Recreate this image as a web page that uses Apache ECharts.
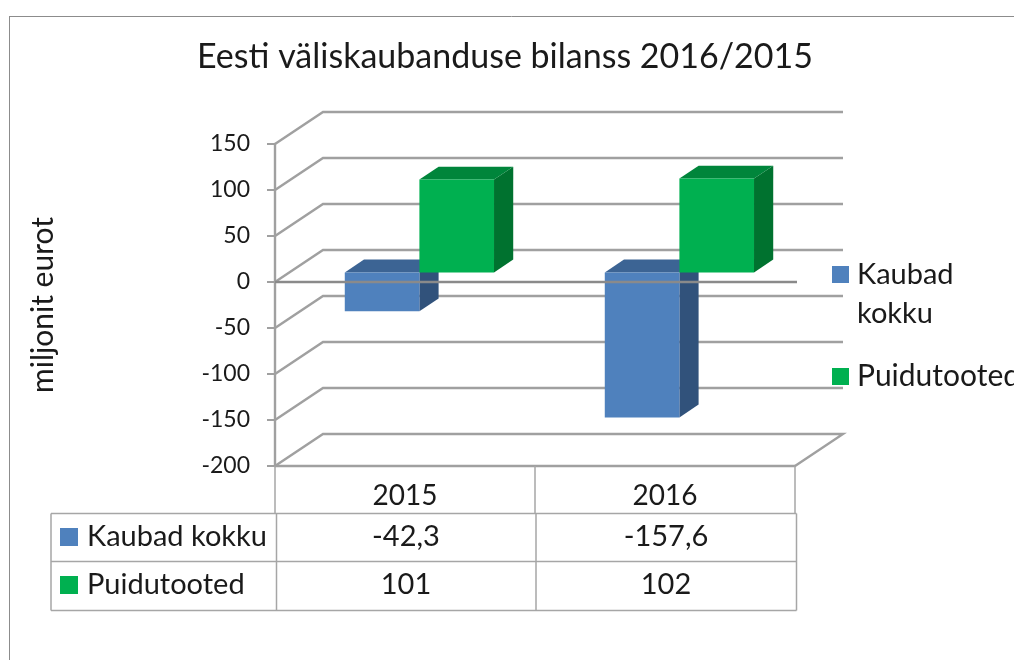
<!DOCTYPE html>
<html>
<head>
<meta charset="utf-8">
<style>
  html, body { margin: 0; padding: 0; background: #fff; overflow: hidden; }
  #chart { width: 1014px; height: 660px; }
</style>
<script src="https://cdn.jsdelivr.net/npm/echarts@6/dist/echarts.min.js"></script>
</head>
<body>
<div id="chart"></div>
<script>
var titleText = 'Eesti väliskaubanduse bilanss 2016/2015'
var yAxisName = 'miljonit eurot'
var categories = ['2015', '2016']
var kaubadName = 'Kaubad kokku'
var kaubadValues = [-42.3, -157.6]
var kaubadLabels = ['-42,3', '-157,6']
var puitName = 'Puidutooted'
var puitValues = [101, 102]
var puitLabels = ['101', '102']
var yTicks = [-200, -150, -100, -50, 0, 50, 100, 150]

var font = 'Lato'
var textColor = '#1a1a1a'
var lineColor = '#a0a0a0'
var tableColor = '#a6a6a6'

// wall depth of the 3d box, pixels
var wallDx = 48
var wallDy = -32
// bars stand between 30% and 70% of the depth
var barNear = 0.3
var barFar = 0.7
var barShare = 0.287

var blue = { front: '#4f81bd', top: '#3c6494', side: '#31527b' }
var green = { front: '#00b050', top: '#00853b', side: '#00722f' }

function wallItem(params, api) {
  var v = api.value(0)
  var a = api.coord([0, v])
  var rect = params.coordSys
  var x0 = rect.x
  var x1 = rect.x + rect.width
  var points = [[x0, a[1]], [x0 + wallDx, a[1] + wallDy], [x1 + wallDx, a[1] + wallDy]]
  // floor is closed on the right side
  if (v === yTicks[0]) {
    points.push([x1, a[1]])
  }
  return {
    type: 'polyline',
    shape: { points: points },
    style: { stroke: lineColor, lineWidth: 2.4, fill: null }
  }
}

function barItem(colors, side) {
  return function (params, api) {
    var center = api.coord([api.value(0), 0])
    var end = api.coord([api.value(0), api.value(1)])
    var w = api.size([1, 0])[0] * barShare
    var nx = wallDx * barNear
    var ny = wallDy * barNear
    var dx = wallDx * (barFar - barNear)
    var dy = wallDy * (barFar - barNear)
    var x0 = center[0] + nx + (side < 0 ? -w : 0)
    var x1 = x0 + w
    var yT = Math.min(center[1], end[1]) + ny
    var yB = Math.max(center[1], end[1]) + ny
    return {
      type: 'group',
      children: [
        { type: 'polygon', shape: { points: [[x1, yT], [x1 + dx, yT + dy], [x1 + dx, yB + dy], [x1, yB]] }, style: { fill: colors.side } },
        { type: 'polygon', shape: { points: [[x0, yT], [x0 + dx, yT + dy], [x1 + dx, yT + dy], [x1, yT]] }, style: { fill: colors.top } },
        { type: 'rect', shape: { x: x0, y: yT, width: w, height: yB - yT }, style: { fill: colors.front } }
      ]
    }
  }
}

function zeroItem(params, api) {
  var p = api.coord([0, api.value(0)])
  var rect = params.coordSys
  return {
    type: 'line',
    shape: { x1: rect.x, y1: p[1], x2: rect.x + rect.width + 2, y2: p[1] },
    style: { stroke: '#8a8a8a', lineWidth: 2.4 }
  }
}

var chart = echarts.init(document.getElementById('chart'))

chart.setOption({
  animation: false,
  backgroundColor: '#fff',
  textStyle: { fontFamily: font },
  title: {
    text: titleText,
    left: 500,
    top: 35,
    textAlign: 'center',
    textStyle: { fontFamily: font, fontSize: 34, fontWeight: 'normal', color: textColor }
  },
  grid: { left: 275, right: 219, top: 144, bottom: 194 },
  xAxis: {
    type: 'category',
    data: categories,
    axisLine: { onZero: false, lineStyle: { color: lineColor, width: 2.4 } },
    axisTick: { show: true, length: 47, lineStyle: { color: tableColor, width: 1.5 } },
    axisLabel: { fontFamily: font, fontSize: 28, color: textColor, margin: 16 }
  },
  yAxis: {
    type: 'value',
    min: -200,
    max: 150,
    interval: 50,
    name: yAxisName,
    nameLocation: 'middle',
    nameRotate: 90,
    nameGap: 217,
    nameTextStyle: { fontFamily: font, fontSize: 30, color: textColor },
    splitLine: { show: false },
    axisLine: { show: true, lineStyle: { color: lineColor, width: 2.4 } },
    axisTick: { show: true, length: 8, lineStyle: { color: lineColor, width: 2 } },
    axisLabel: { fontFamily: font, fontSize: 23, color: textColor, margin: 25, padding: [2, 0, 0, 0] }
  },
  series: [
    {
      type: 'custom',
      name: 'walls',
      z: 1,
      silent: true,
      renderItem: wallItem,
      encode: { y: 0 },
      data: yTicks.map(function (v) { return [v] })
    },
    {
      type: 'custom',
      name: kaubadName,
      z: 2,
      renderItem: barItem(blue, -1),
      encode: { x: 0, y: 1 },
      data: kaubadValues.map(function (v, i) { return [i, v] })
    },
    {
      type: 'custom',
      name: puitName,
      z: 3,
      renderItem: barItem(green, 1),
      encode: { x: 0, y: 1 },
      data: puitValues.map(function (v, i) { return [i, v] })
    },
    {
      type: 'custom',
      name: 'zero',
      z: 4,
      silent: true,
      renderItem: zeroItem,
      encode: { y: 0 },
      data: [[0]]
    }
  ]
})

// table, legend and frame go in as graphics, cell centres come from the x axis
function line(x1, y1, x2, y2, color, width) {
  return { type: 'line', silent: true, shape: { x1: x1, y1: y1, x2: x2, y2: y2 }, style: { stroke: color, lineWidth: width } }
}
function label(text, x, y, align, size) {
  return {
    type: 'text',
    silent: true,
    style: { text: text, x: x, y: y, align: align, verticalAlign: 'middle', fontFamily: font, fontSize: size, lineHeight: 40, fill: textColor }
  }
}
function swatch(x, y, size, color) {
  return { type: 'rect', silent: true, shape: { x: x, y: y, width: size, height: size }, style: { fill: color } }
}

var rowTops = [513.5, 561.5, 610.5]
var colLines = [51, 276.5, 536, 796.5]
var rows = [
  { name: kaubadName, labels: kaubadLabels, color: blue.front, y: 537 },
  { name: puitName, labels: puitLabels, color: green.front, y: 585 }
]
var elements = [
  line(9.5, 16, 9.5, 660, '#8c8c8c', 1),
  line(9, 16.5, 1014, 16.5, '#8c8c8c', 1)
]
rowTops.forEach(function (y) {
  elements.push(line(colLines[0], y, colLines[3], y, tableColor, 1.5))
})
colLines.forEach(function (x) {
  elements.push(line(x, rowTops[0], x, rowTops[2], tableColor, 1.5))
})
rows.forEach(function (row) {
  elements.push(swatch(60, row.y - 9, 18, row.color))
  elements.push(label(row.name, 87, row.y, 'left', 29))
  row.labels.forEach(function (text, i) {
    var x = chart.convertToPixel({ xAxisIndex: 0 }, categories[i])
    elements.push(label(text, x + 1, row.y, 'center', 29))
  })
})
// legend on the right, first name breaks in two lines
elements.push(swatch(832, 266, 17, blue.front))
elements.push(label(kaubadName.split(' ')[0], 857, 275, 'left', 29))
elements.push(label(kaubadName.split(' ')[1], 857, 314, 'left', 29))
elements.push(swatch(832, 368, 17, green.front))
elements.push(label(puitName, 857, 376, 'left', 30))

chart.setOption({ graphic: { elements: elements } })
</script>
</body>
</html>
